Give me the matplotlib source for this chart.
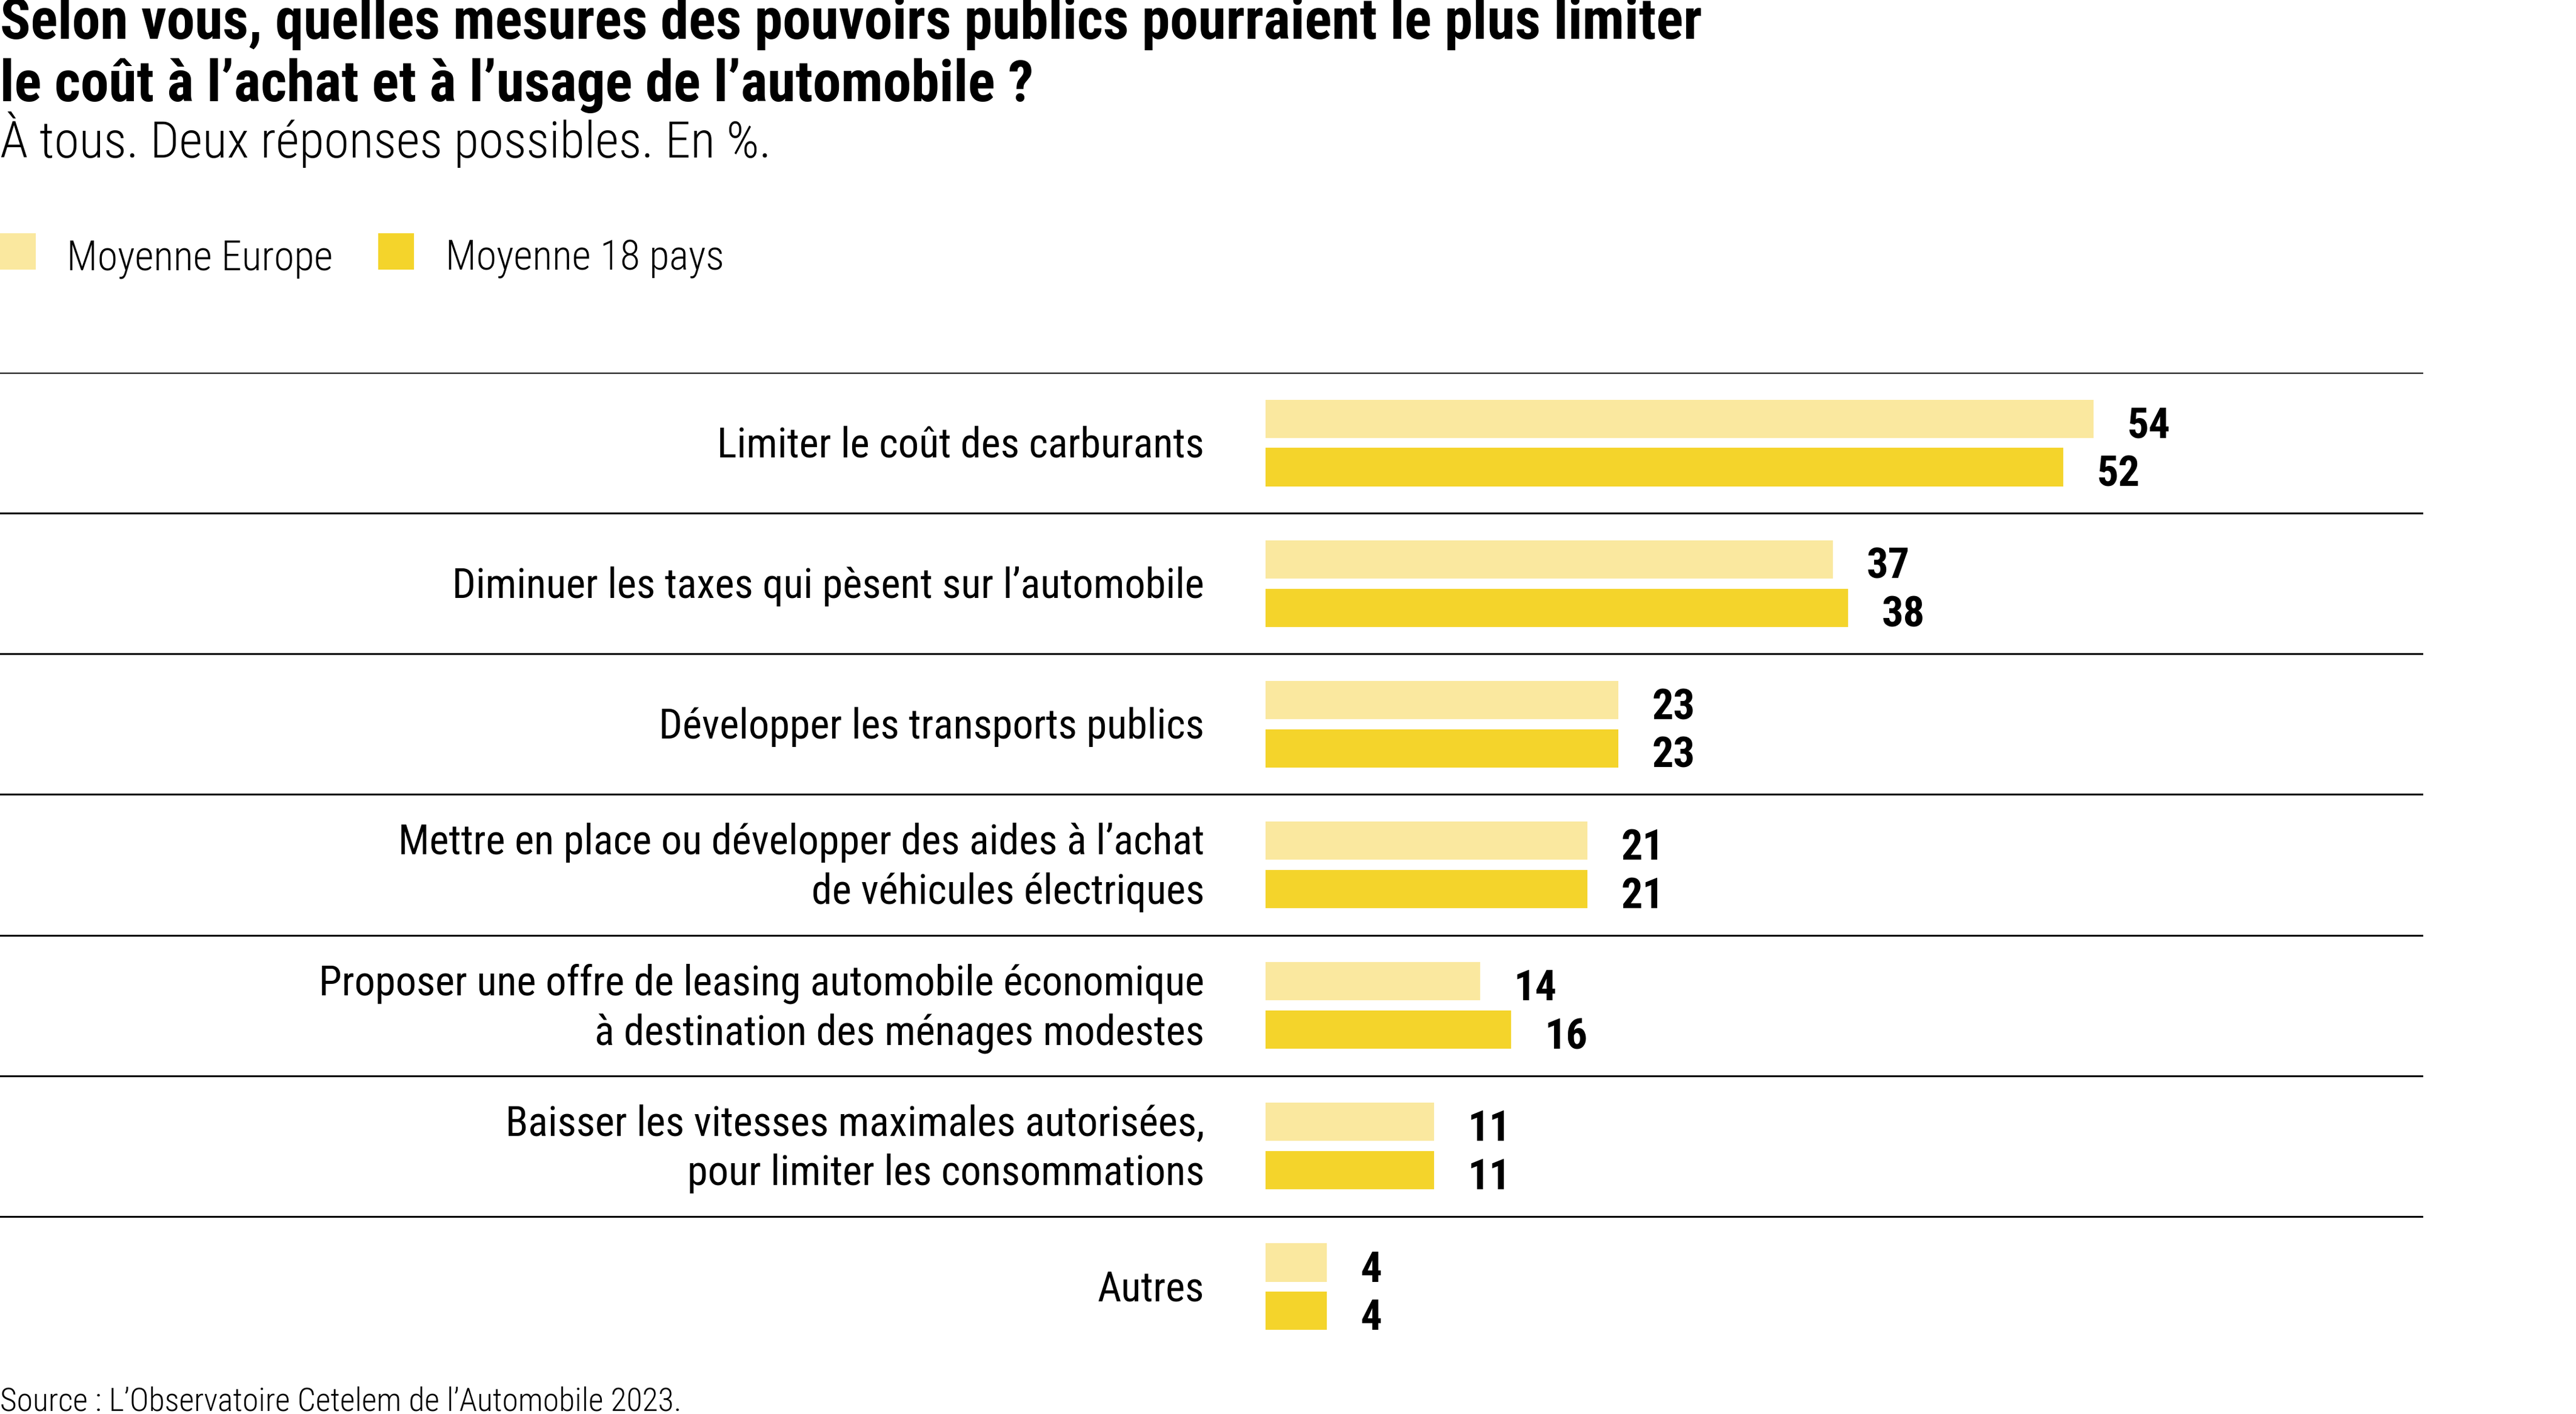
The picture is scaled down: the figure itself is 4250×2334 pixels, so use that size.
import matplotlib
matplotlib.use("Agg")
import matplotlib.pyplot as plt
from matplotlib import font_manager
from matplotlib.patches import Rectangle

# données
categories = [
    "Limiter le coût des carburants",
    "Diminuer les taxes qui pèsent sur l’automobile",
    "Développer les transports publics",
    "Mettre en place ou développer des aides à l’achat\nde véhicules électriques",
    "Proposer une offre de leasing automobile économique\nà destination des ménages modestes",
    "Baisser les vitesses maximales autorisées,\npour limiter les consommations",
    "Autres",
]
europe = [54, 37, 23, 21, 14, 11, 4]
pays18 = [52, 38, 23, 21, 16, 11, 4]
series_labels = ["Moyenne Europe", "Moyenne 18 pays"]

title_lines = [
    "Selon vous, quelles mesures des pouvoirs publics pourraient le plus limiter",
    "le coût à l’achat et à l’usage de l’automobile ?",
]
subtitle = "À tous. Deux réponses possibles. En %."
source = "Source : L’Observatoire Cetelem de l’Automobile 2023."

c_light = "#fae89f"
c_dark = "#f4d42b"

# polices disponibles
names = {f.name for f in font_manager.fontManager.ttflist}


def pick(*cands):
    for c in cands:
        if c in names:
            return c
    return "DejaVu Sans"


f_cond = pick("Roboto Condensed", "Liberation Sans Narrow", "Open Sans Condensed", "Roboto")
f_body = pick("Roboto Condensed", "Roboto", "Open Sans")

W, H = 4250, 2334
fig = plt.figure(figsize=(W / 100, H / 100), dpi=100)
renderer = fig.canvas.get_renderer()


def fx(px):
    return px / W


def fy(py):
    return 1 - py / H


def fit(t, target):
    # ajuste la taille de la police pour obtenir la largeur voulue (px)
    for _ in range(3):
        bb = t.get_window_extent(renderer)
        t.set_fontsize(t.get_fontsize() * target / bb.width)


# titre
t1 = fig.text(0, fy(64), title_lines[0], family=f_cond, weight="heavy",
              fontsize=50, va="baseline", ha="left")
fit(t1, 2813)
fig.text(0, fy(167), title_lines[1], family=f_cond, weight="heavy",
         fontsize=t1.get_fontsize(), va="baseline", ha="left")
st = fig.text(0, fy(260), subtitle, family=f_body, weight="light",
              fontsize=40, va="baseline", ha="left")
fit(st, 1274)

# légende
leg_x = [(0, 110), (624, 735)]
for (sx, tx), lab, col in zip(leg_x, series_labels, [c_light, c_dark]):
    fig.add_artist(Rectangle((fx(sx), fy(445)), 59 / W, 60 / H,
                             transform=fig.transFigure, color=col, lw=0))
    lt = fig.text(fx(tx), fy(445), lab, family=f_body, weight="light",
                  fontsize=36, va="baseline", ha="left")
    if lab == series_labels[0]:
        fit(lt, 440)
        leg_fs = lt.get_fontsize()
    else:
        lt.set_fontsize(leg_fs)

# source
so = fig.text(0, fy(2330), source, family=f_body, weight="light",
              fontsize=30, va="baseline", ha="left")
fit(so, 1124)

# graphique
top, bottom, right, x0 = 615, 2240, 3998, 2088
scale = 25.3  # px par point
ax = fig.add_axes([0, fy(bottom), fx(right), (bottom - top) / H])
ax.set_xlim(-x0 / scale, (right - x0) / scale)
ax.set_ylim(len(categories), 0)
ax.axis("off")

n = len(categories)
y_e = [i + 0.328 for i in range(n)]
y_p = [i + 0.672 for i in range(n)]
bh = 0.272
ax.barh(y_e, europe, height=bh, color=c_light, lw=0)
ax.barh(y_p, pays18, height=bh, color=c_dark, lw=0)

for i in range(n):
    ax.axhline(i, color="black", lw=2.2)

val_fs = None
for y, v in zip(y_e + y_p, europe + pays18):
    t = ax.text(v + 2.2, y + bh / 2, str(v), family=f_cond, weight="bold",
                fontsize=50, va="baseline", ha="left")
    if val_fs is None:
        fit(t, 71)
        val_fs = t.get_fontsize()
    else:
        t.set_fontsize(val_fs)

lab_x = -(x0 - 1987) / scale
labs = []
for i, c in enumerate(categories):
    labs.append(ax.text(lab_x, i + 0.52, c, family=f_body, weight="normal",
                        fontsize=44, va="center", ha="right",
                        linespacing=1.3))
fit(labs[4], 1464)
for t in labs:
    t.set_fontsize(labs[4].get_fontsize())

fig.savefig("out.png", dpi=100)
